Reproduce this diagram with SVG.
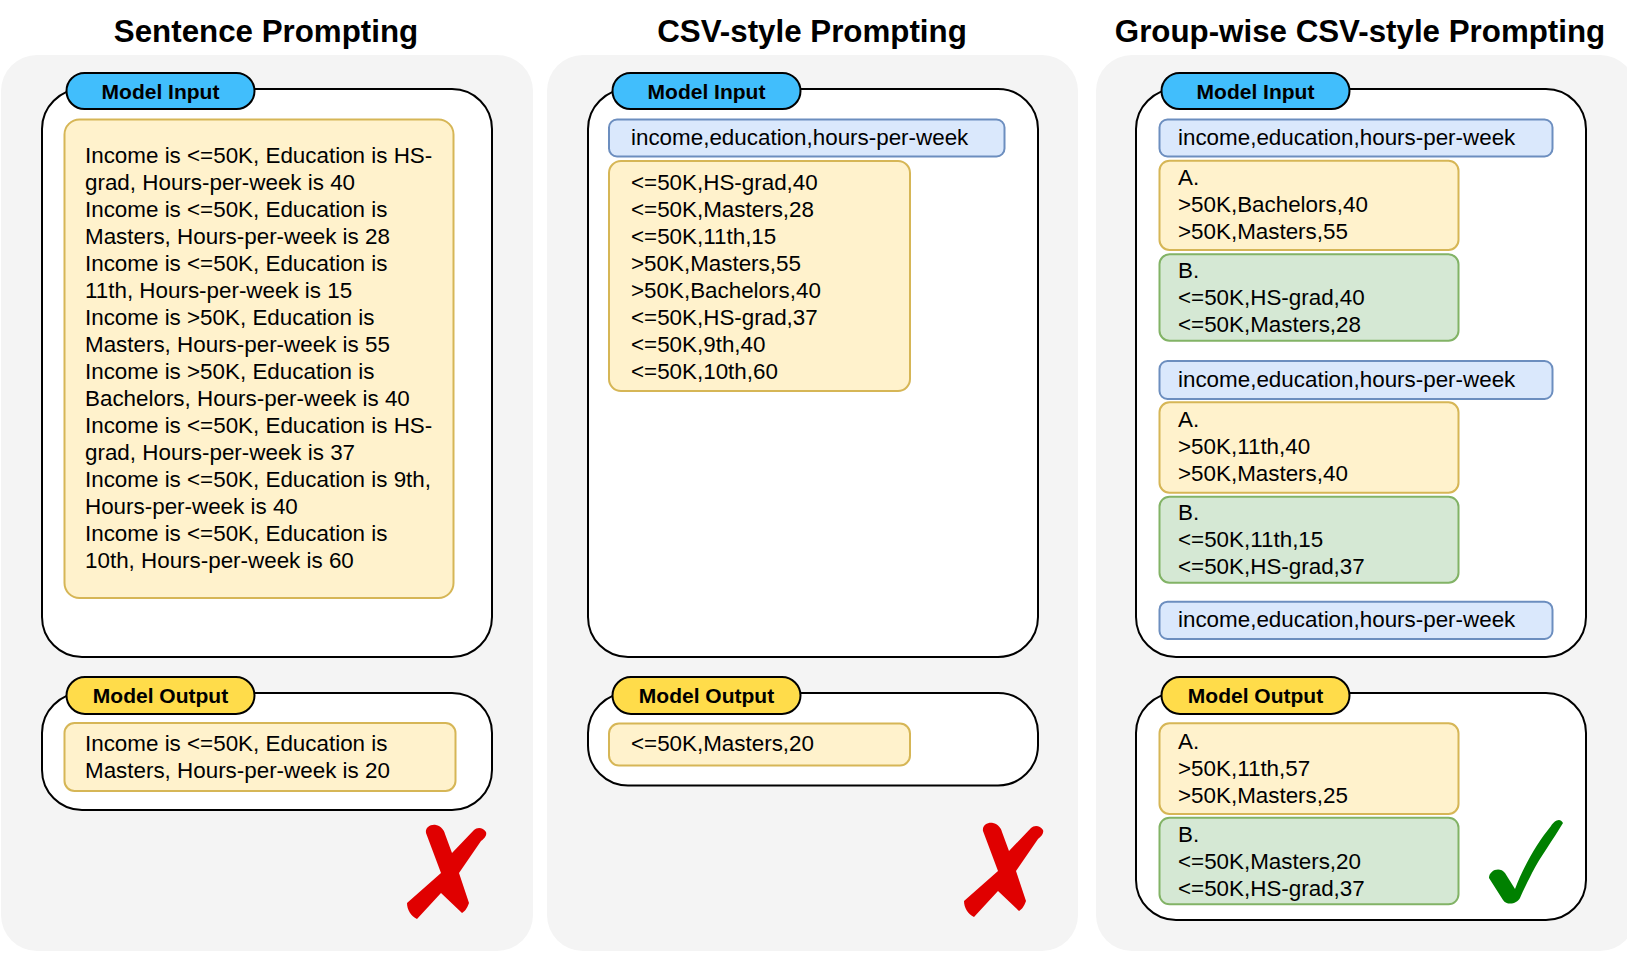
<svg xmlns="http://www.w3.org/2000/svg" xmlns:xlink="http://www.w3.org/1999/xlink" width="1627" height="956" viewBox="0 0 1627 956">
<defs>
<style>
.bg{fill:#ffffff}
.panel{fill:#f4f4f4}
.frame{fill:#ffffff;stroke:#000000;stroke-width:2}
.pin{fill:#41befc;stroke:#000000;stroke-width:2}
.pout{fill:#ffdc4a;stroke:#000000;stroke-width:2}
.yel{fill:#fff2cc;stroke:#d6b656;stroke-width:2}
.blu{fill:#dae8fc;stroke:#6c8ebf;stroke-width:2}
.grn{fill:#d5e8d4;stroke:#82b366;stroke-width:2}
.title{font-family:"Liberation Sans",Arial,Helvetica,sans-serif;font-weight:bold;font-size:31.3px;fill:#000;text-anchor:middle}
.lbl{font-family:"Liberation Sans",Arial,Helvetica,sans-serif;font-weight:bold;font-size:21px;fill:#000;text-anchor:middle}
.t{font-family:"Liberation Sans",Arial,Helvetica,sans-serif;font-size:22.4px;fill:#000}
.cross{fill:#e00000}
.check{fill:#008000}
</style>
<path id="xmark" class="cross" d="M426 833 C425 827 431 824 436 825 C441 826 444 830 445 834 L452 853 L474 830 C477 827 483 827 486 832 C487 835 485 838 481 841 L459 873 L469 903 C467 909 464 912 462 913 L441 893 L417 919 C411 916 407 910 407 903 L441 873 Z"/>
</defs>
<rect class="bg" x="0" y="0" width="1627" height="956"/>

<g id="panel-sentence">
  <rect class="panel" x="1" y="55" width="532" height="896" rx="36"/>
  <text class="title" x="266" y="42">Sentence Prompting</text>
  <g id="s-input">
    <rect class="frame" x="42" y="89" width="450" height="568" rx="40"/>
    <rect class="pin" x="66.5" y="73" width="188" height="36" rx="18"/>
    <text class="lbl" x="160.5" y="98.5">Model Input</text>
    <rect class="yel" x="64.5" y="119.5" width="389" height="478.5" rx="15"/>
    <text class="t" x="85" y="163.3">
      <tspan x="85" dy="0">Income is &lt;=50K, Education is HS-</tspan>
      <tspan x="85" dy="27">grad, Hours-per-week is 40</tspan>
      <tspan x="85" dy="27">Income is &lt;=50K, Education is</tspan>
      <tspan x="85" dy="27">Masters, Hours-per-week is 28</tspan>
      <tspan x="85" dy="27">Income is &lt;=50K, Education is</tspan>
      <tspan x="85" dy="27">11th, Hours-per-week is 15</tspan>
      <tspan x="85" dy="27">Income is &gt;50K, Education is</tspan>
      <tspan x="85" dy="27">Masters, Hours-per-week is 55</tspan>
      <tspan x="85" dy="27">Income is &gt;50K, Education is</tspan>
      <tspan x="85" dy="27">Bachelors, Hours-per-week is 40</tspan>
      <tspan x="85" dy="27">Income is &lt;=50K, Education is HS-</tspan>
      <tspan x="85" dy="27">grad, Hours-per-week is 37</tspan>
      <tspan x="85" dy="27">Income is &lt;=50K, Education is 9th,</tspan>
      <tspan x="85" dy="27">Hours-per-week is 40</tspan>
      <tspan x="85" dy="27">Income is &lt;=50K, Education is</tspan>
      <tspan x="85" dy="27">10th, Hours-per-week is 60</tspan>
    </text>
  </g>
  <g id="s-output">
    <rect class="frame" x="42" y="693" width="450" height="117" rx="40"/>
    <rect class="pout" x="66.5" y="677" width="188" height="37" rx="18.5"/>
    <text class="lbl" x="160.5" y="702.7">Model Output</text>
    <rect class="yel" x="64.5" y="723" width="391" height="68" rx="10"/>
    <text class="t" x="85" y="751">
      <tspan x="85" dy="0">Income is &lt;=50K, Education is</tspan>
      <tspan x="85" dy="27">Masters, Hours-per-week is 20</tspan>
    </text>
  </g>
  <use id="s-cross" xlink:href="#xmark" href="#xmark"/>
</g>

<g id="panel-csv">
  <rect class="panel" x="547" y="55" width="531" height="896" rx="36"/>
  <text class="title" x="812" y="42">CSV-style Prompting</text>
  <g id="c-input">
    <rect class="frame" x="588" y="89" width="450" height="568" rx="40"/>
    <rect class="pin" x="612.5" y="73" width="188" height="36" rx="18"/>
    <text class="lbl" x="706.5" y="98.5">Model Input</text>
    <rect class="blu" x="609" y="119.5" width="395.5" height="37" rx="8"/>
    <text class="t" x="631" y="144.5">income,education,hours-per-week</text>
    <rect class="yel" x="609" y="161" width="301" height="230" rx="12"/>
    <text class="t" x="631" y="190">
      <tspan x="631" dy="0">&lt;=50K,HS-grad,40</tspan>
      <tspan x="631" dy="27">&lt;=50K,Masters,28</tspan>
      <tspan x="631" dy="27">&lt;=50K,11th,15</tspan>
      <tspan x="631" dy="27">&gt;50K,Masters,55</tspan>
      <tspan x="631" dy="27">&gt;50K,Bachelors,40</tspan>
      <tspan x="631" dy="27">&lt;=50K,HS-grad,37</tspan>
      <tspan x="631" dy="27">&lt;=50K,9th,40</tspan>
      <tspan x="631" dy="27">&lt;=50K,10th,60</tspan>
    </text>
  </g>
  <g id="c-output">
    <rect class="frame" x="588" y="693" width="450" height="92.5" rx="40"/>
    <rect class="pout" x="612.5" y="677" width="188" height="37" rx="18.5"/>
    <text class="lbl" x="706.5" y="702.7">Model Output</text>
    <rect class="yel" x="609" y="723.5" width="301" height="42" rx="10"/>
    <text class="t" x="631" y="751">&lt;=50K,Masters,20</text>
  </g>
  <use id="c-cross" xlink:href="#xmark" href="#xmark" transform="translate(557,-2)"/>
</g>

<g id="panel-group">
  <rect class="panel" x="1096" y="55" width="540" height="896" rx="36"/>
  <text class="title" x="1360" y="42">Group-wise CSV-style Prompting</text>
  <g id="g-input">
    <rect class="frame" x="1136" y="89" width="450" height="568" rx="40"/>
    <rect class="pin" x="1161.5" y="73" width="188" height="36" rx="18"/>
    <text class="lbl" x="1255.5" y="98.5">Model Input</text>
    <rect class="blu" x="1159.5" y="119.5" width="393" height="37" rx="8"/>
    <text class="t" x="1178" y="144.5">income,education,hours-per-week</text>
    <rect class="yel" x="1159.5" y="160.7" width="299" height="89.3" rx="10"/>
    <text class="t" x="1178" y="185.2">
      <tspan x="1178" dy="0">A.</tspan>
      <tspan x="1178" dy="27">&gt;50K,Bachelors,40</tspan>
      <tspan x="1178" dy="27">&gt;50K,Masters,55</tspan>
    </text>
    <rect class="grn" x="1159.5" y="254.3" width="299" height="86.4" rx="10"/>
    <text class="t" x="1178" y="278">
      <tspan x="1178" dy="0">B.</tspan>
      <tspan x="1178" dy="27">&lt;=50K,HS-grad,40</tspan>
      <tspan x="1178" dy="27">&lt;=50K,Masters,28</tspan>
    </text>
    <rect class="blu" x="1159.5" y="361" width="393" height="38" rx="8"/>
    <text class="t" x="1178" y="386.5">income,education,hours-per-week</text>
    <rect class="yel" x="1159.5" y="402.3" width="299" height="90.4" rx="10"/>
    <text class="t" x="1178" y="427">
      <tspan x="1178" dy="0">A.</tspan>
      <tspan x="1178" dy="27">&gt;50K,11th,40</tspan>
      <tspan x="1178" dy="27">&gt;50K,Masters,40</tspan>
    </text>
    <rect class="grn" x="1159.5" y="496.7" width="299" height="86" rx="10"/>
    <text class="t" x="1178" y="520">
      <tspan x="1178" dy="0">B.</tspan>
      <tspan x="1178" dy="27">&lt;=50K,11th,15</tspan>
      <tspan x="1178" dy="27">&lt;=50K,HS-grad,37</tspan>
    </text>
    <rect class="blu" x="1159.5" y="601.7" width="393" height="37.3" rx="8"/>
    <text class="t" x="1178" y="627">income,education,hours-per-week</text>
  </g>
  <g id="g-output">
    <rect class="frame" x="1136" y="693" width="450" height="227" rx="40"/>
    <rect class="pout" x="1161.5" y="677" width="188" height="37" rx="18.5"/>
    <text class="lbl" x="1255.5" y="702.7">Model Output</text>
    <rect class="yel" x="1159.5" y="723.3" width="299" height="90.7" rx="10"/>
    <text class="t" x="1178" y="748.5">
      <tspan x="1178" dy="0">A.</tspan>
      <tspan x="1178" dy="27">&gt;50K,11th,57</tspan>
      <tspan x="1178" dy="27">&gt;50K,Masters,25</tspan>
    </text>
    <rect class="grn" x="1159.5" y="817.7" width="299" height="86.6" rx="10"/>
    <text class="t" x="1178" y="841.5">
      <tspan x="1178" dy="0">B.</tspan>
      <tspan x="1178" dy="27">&lt;=50K,Masters,20</tspan>
      <tspan x="1178" dy="27">&lt;=50K,HS-grad,37</tspan>
    </text>
  </g>
  <path id="g-check" class="check" d="M1489 878 C1489 870 1500 866 1505 873 L1515 889 C1524 865 1538 842 1551 826 C1554 821 1560 817 1563 823 C1553 840 1540 857 1532 873 C1527 883 1523 891 1520 898 C1517 904 1507 906 1503 900 Z"/>
</g>

<g id="connectors"/>
</svg>
